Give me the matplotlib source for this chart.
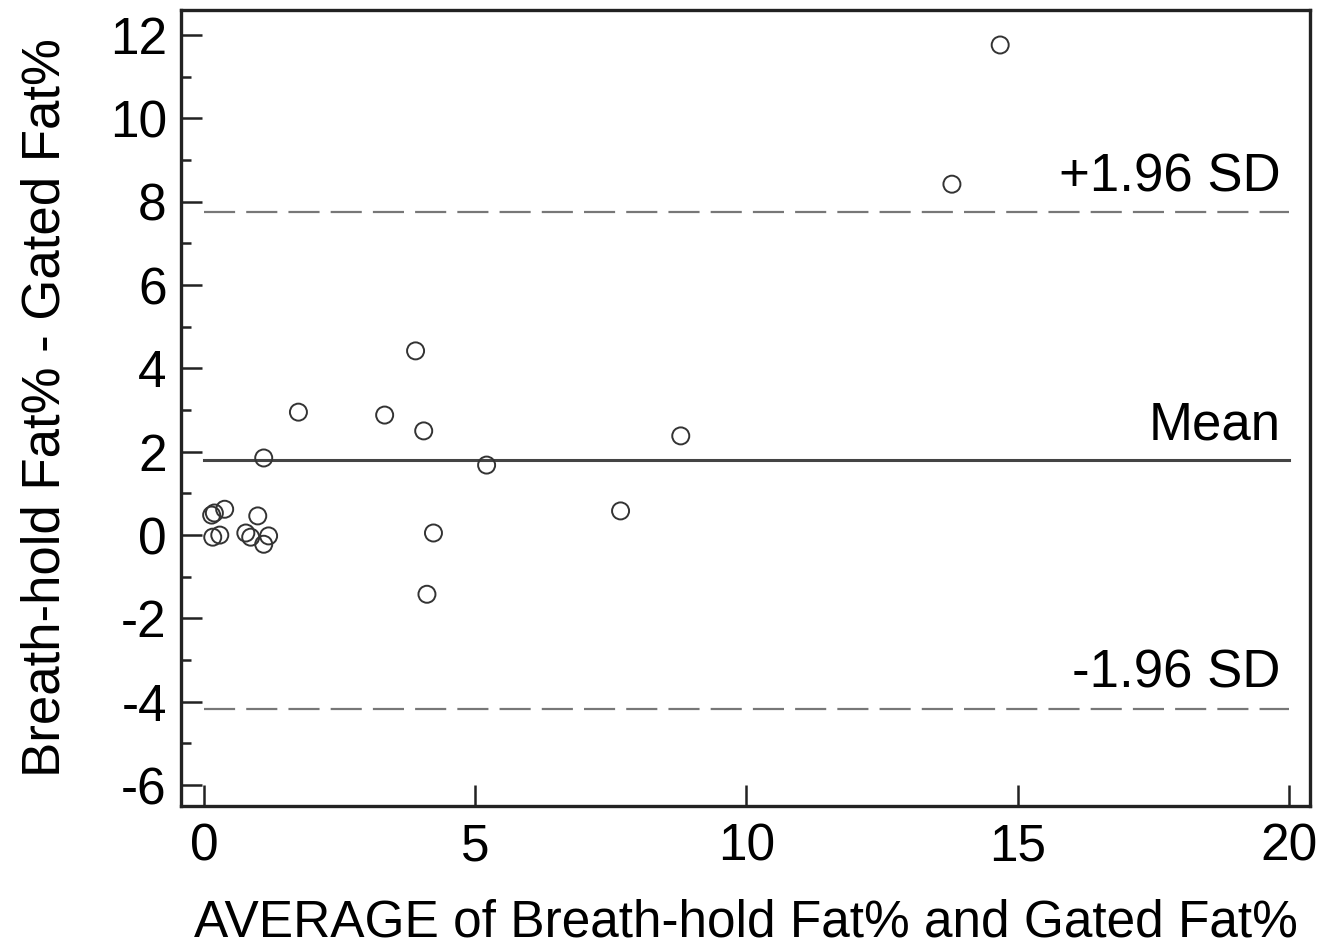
import matplotlib
matplotlib.use("Agg")
import matplotlib.pyplot as plt
from matplotlib.ticker import MultipleLocator

plt.rcParams['font.family'] = ['Liberation Sans', 'DejaVu Sans']
plt.rcParams['axes.unicode_minus'] = False

# average of the two methods vs. difference (breath-hold - gated)
avg = [14.68, 13.79, 3.90, 1.74, 3.33, 4.05, 8.79, 1.10, 5.21, 7.68, 4.23, 4.11,
       0.19, 0.14, 0.38, 0.16, 0.29, 0.77, 0.86, 0.99, 1.10, 1.19]
diff = [11.76, 8.42, 4.42, 2.95, 2.88, 2.50, 2.38, 1.85, 1.68, 0.58, 0.05, -1.42,
        0.53, 0.48, 0.62, -0.05, 0.0, 0.05, -0.05, 0.46, -0.22, -0.02]

mean_diff = 1.80
upper_loa = 7.75
lower_loa = -4.18
line_span = [0, 20]

fig = plt.figure(figsize=(13.29, 9.51), dpi=100)
ax = fig.add_axes([0.136, 0.1525, 0.85, 0.837])

ax.plot(line_span, [mean_diff, mean_diff], color='#444444', lw=2.2)
ax.plot(line_span, [upper_loa, upper_loa], color='#777777', lw=1.6, dashes=(14, 5))
ax.plot(line_span, [lower_loa, lower_loa], color='#777777', lw=1.6, dashes=(14, 5))

ax.scatter(avg, diff, s=150, facecolors='none', edgecolors='#333333', linewidths=1.4, zorder=3)

ax.text(19.85, upper_loa + 0.82, '+1.96 SD', ha='right', va='center', fontsize=38)
ax.text(19.85, mean_diff + 0.84, 'Mean', ha='right', va='center', fontsize=38)
ax.text(19.85, lower_loa + 0.87, '-1.96 SD', ha='right', va='center', fontsize=38)

ax.set_xlim(-0.43, 20.4)
ax.set_ylim(-6.5, 12.6)
ax.xaxis.set_major_locator(MultipleLocator(5))
ax.yaxis.set_major_locator(MultipleLocator(2))
ax.yaxis.set_minor_locator(MultipleLocator(1))

ax.tick_params(axis='both', which='major', direction='in', length=15, width=1.8,
               labelsize=37, color='#222222')
ax.tick_params(axis='x', which='major', pad=12)
ax.tick_params(axis='y', which='major', pad=10)
ax.tick_params(axis='y', which='minor', direction='in', length=7.5, width=1.8, color='#222222')

for sp in ax.spines.values():
    sp.set_linewidth(2.4)
    sp.set_color('#222222')

ax.set_xlabel('AVERAGE of Breath-hold Fat% and Gated Fat%', fontsize=37, labelpad=19)
ax.set_ylabel('Breath-hold Fat% - Gated Fat%', fontsize=38, labelpad=28)

fig.savefig('out.png', dpi=100)
